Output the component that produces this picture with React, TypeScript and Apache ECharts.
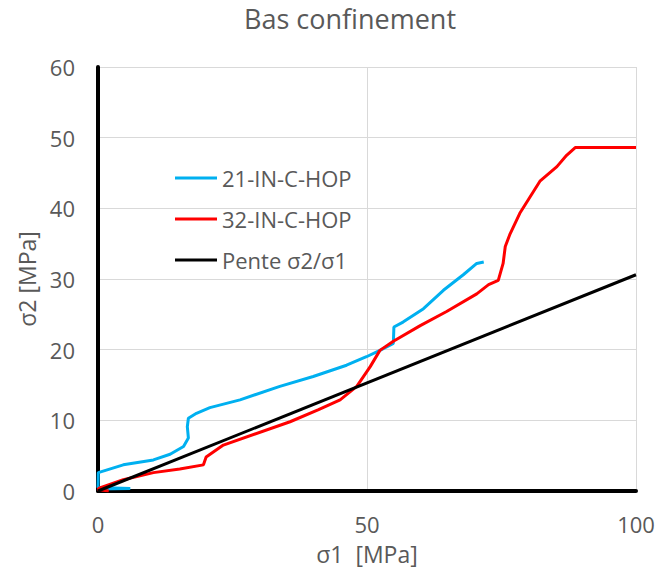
import React, { useEffect, useRef } from "react";
import * as echarts from "echarts";

const titleText = "Bas confinement";
const xAxisName = "σ1  [MPa]";
const yAxisName = "σ2 [MPa]";
const seriesNames = ["21-IN-C-HOP", "32-IN-C-HOP", "Pente σ2/σ1"];

const blueData: [number, number][] = [
  [0, 0.3], [6, 0.35], [0, 0.5], [0.05, 2.6], [4.7, 3.7], [10.3, 4.4], [13.4, 5.2],
  [15.9, 6.3], [16.8, 7.5], [16.6, 9.1], [16.8, 10.3], [18.3, 11.0], [20.8, 11.8],
  [26.4, 12.9], [33.8, 14.8], [40.0, 16.2], [46.2, 17.8], [49.9, 19.0], [52.4, 19.9],
  [54.9, 20.9], [55.0, 23.2], [56.7, 23.9], [60.5, 25.8], [64.2, 28.4], [67.9, 30.6],
  [70.4, 32.2], [71.7, 32.4],
];

const redData: [number, number][] = [
  [2, 0.0], [0, 0.2], [0.2, 0.4], [4.7, 1.6], [10.3, 2.6], [15.2, 3.1], [19.6, 3.7],
  [20.1, 4.8], [23.3, 6.5], [35.7, 9.8], [41, 11.5], [45.0, 12.9], [48.1, 14.8],
  [50.6, 17.6], [52.4, 19.9], [54.9, 21.2], [59.9, 23.4], [64.8, 25.4], [70.4, 27.9],
  [72.6, 29.2], [74.4, 29.8], [75.3, 32.2], [75.7, 34.6], [76.6, 36.4], [78.4, 39.3],
  [80.3, 41.6], [82.2, 43.9], [85.3, 45.9], [87.1, 47.5], [88.7, 48.6], [100, 48.6],
];

const blackData: [number, number][] = [
  [0, 0], [100, 30.6],
];

const xTicks = { min: 0, max: 100, interval: 50 };
const yTicks = { min: 0, max: 60, interval: 10 };

const FONT = "'Open Sans', 'Noto Sans', sans-serif";
const GRAY = "#595959";

export default function App() {
  const ref = useRef<HTMLDivElement>(null);
  useEffect(() => {
    if (!ref.current) return;
    const chart = echarts.init(ref.current, undefined, { renderer: "svg" });
    chart.setOption({
      animation: false,
      backgroundColor: "#ffffff",
      textStyle: { fontFamily: FONT },
      title: {
        text: titleText,
        left: 345,
        textAlign: "center",
        top: 0,
        textStyle: { fontFamily: FONT, fontSize: 27, fontWeight: "normal", color: GRAY },
      },
      legend: {
        orient: "vertical",
        left: 170,
        top: 162,
        icon: "rect",
        itemWidth: 42,
        itemHeight: 3,
        itemGap: 19,
        textStyle: { fontFamily: FONT, fontSize: 22, color: GRAY },
        data: seriesNames,
      },
      grid: { left: 98, right: 24, top: 67, bottom: 83, containLabel: false },
      xAxis: {
        type: "value",
        min: xTicks.min,
        max: xTicks.max,
        interval: xTicks.interval,
        name: xAxisName,
        nameLocation: "middle",
        nameGap: 51,
        nameTextStyle: { fontFamily: FONT, fontSize: 23, color: GRAY },
        axisLine: { show: true, onZero: false, lineStyle: { color: "#000", width: 4 } },
        axisTick: { show: false },
        axisLabel: { fontFamily: FONT, fontSize: 22, color: GRAY, margin: 22 },
        splitLine: { show: true, lineStyle: { color: "#d9d9d9", width: 1 } },
      },
      yAxis: {
        type: "value",
        min: yTicks.min,
        max: yTicks.max,
        interval: yTicks.interval,
        name: yAxisName,
        nameLocation: "middle",
        nameGap: 57,
        nameRotate: 90,
        nameTextStyle: { fontFamily: FONT, fontSize: 23, color: GRAY },
        axisLine: { show: true, onZero: false, lineStyle: { color: "#000", width: 4 } },
        axisTick: { show: false },
        axisLabel: { fontFamily: FONT, fontSize: 22, color: GRAY, margin: 23 },
        splitLine: { show: true, lineStyle: { color: "#d9d9d9", width: 1 } },
      },
      series: [
        {
          name: seriesNames[0],
          type: "line",
          data: blueData,
          symbol: "none",
          lineStyle: { color: "#00B0F0", width: 3 },
          itemStyle: { color: "#00B0F0" },
          z: 2,
        },
        {
          name: seriesNames[1],
          type: "line",
          data: redData,
          symbol: "none",
          lineStyle: { color: "#FF0000", width: 3 },
          itemStyle: { color: "#FF0000" },
          z: 3,
        },
        {
          name: seriesNames[2],
          type: "line",
          data: blackData,
          symbol: "none",
          lineStyle: { color: "#000000", width: 3 },
          itemStyle: { color: "#000000" },
          z: 4,
        },
      ],
    });
    return () => chart.dispose();
  }, []);
  return <div ref={ref} style={{ width: 660, height: 574, position: "absolute", left: 0, top: 0 }} />;
}
